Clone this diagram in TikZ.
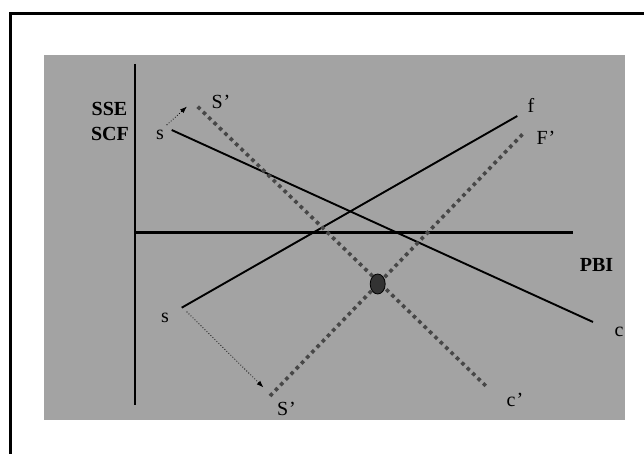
\documentclass[tikz,border=0pt]{standalone}
\usepackage{fontspec}
\setmainfont{Liberation Serif}
\usetikzlibrary{arrows.meta,shapes.geometric}
\definecolor{bggray}{HTML}{A3A3A3}
\definecolor{dotgray}{HTML}{474747}
\definecolor{dotfill}{HTML}{333333}
\tikzset{
  lbl/.style={inner sep=0pt, font=\fontsize{20}{20}\selectfont},
  blbl/.style={inner sep=0pt, font=\fontsize{20}{20}\selectfont\bfseries},
  axis/.style={line width=2.4pt, black},
  curve/.style={line width=1.9pt, black},
  shifted/.style={line width=3.6pt, dotgray, dash pattern=on 3.6pt off 3.9pt},
  move/.style={line width=0.8pt, black, dotted, -{Latex[length=7pt,width=5pt]}},
}
\begin{document}
\begin{tikzpicture}[x=1pt,y=-1pt]
\useasboundingbox (0,0) rectangle (644,454);
% frame
\draw[line width=2.2pt] (10.5,454) -- (10.5,13.5) -- (644,13.5);
\fill[bggray] (44,55) rectangle (625,420);
% axes
\coordinate (ytop) at (135,64);
\coordinate (ybot) at (135,405);
\coordinate (xl) at (135,232.5);
\coordinate (xr) at (573,232.5);
\draw[axis] (ytop) -- (ybot);
\draw[axis] (xl) -- (xr);
% solid curves
\coordinate (s1) at (171.7,130);
\coordinate (c1) at (593,322);
\coordinate (s2) at (181.7,307.7);
\coordinate (f1) at (517.3,116);
\draw[curve] (s1) -- (c1);
\draw[curve] (s2) -- (f1);
% shifted dotted curves
\coordinate (sp1) at (197.7,106.7);
\coordinate (cp1) at (488.5,388.5);
\coordinate (sp2) at (270,396);
\coordinate (fp2) at (524,132.7);
\draw[shifted] (sp1) -- (cp1);
\draw[shifted] (sp2) -- (fp2);
% movement arrows
\coordinate (a1s) at (166.7,125);
\coordinate (a1e) at (187,106.5);
\coordinate (a2s) at (186.7,311.7);
\coordinate (a2e) at (263.5,387.5);
\draw[move] (a1s) -- (a1e);
\draw[move] (a2s) -- (a2e);
% equilibrium dot
\node[draw=black, line width=0.8pt, fill=dotfill, ellipse, minimum width=15pt, minimum height=20pt, inner sep=0pt] (eq) at (377.7,284) {};
% labels
\node[blbl] (sse) at (109.5,108.5) {SSE};
\node[blbl] (scf) at (110,133.5) {SCF};
\node[blbl] (pbi) at (596.5,265) {PBI};
\node[lbl] (ls1) at (160,135) {s};
\node[lbl] (ls2) at (165,317.5) {s};
\node[lbl] (lc) at (619,332) {c};
\node[lbl] (lf) at (531,105) {f};
\node[lbl] (lsp1) at (221,102) {S\kern1pt’};
\node[lbl] (lsp2) at (286.5,409) {S\kern1pt’};
\node[lbl] (lcp) at (515,400) {c\kern1pt’};
\node[lbl] (lfp) at (546,137.5) {F\kern1pt’};
\end{tikzpicture}
\end{document}
